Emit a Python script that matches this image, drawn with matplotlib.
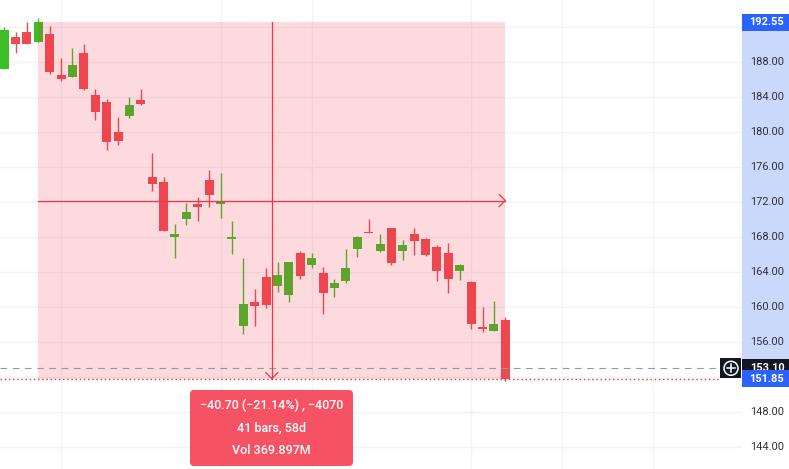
import matplotlib
matplotlib.use("Agg")
import matplotlib.pyplot as plt
from matplotlib.patches import Rectangle, FancyBboxPatch, Circle
from matplotlib.transforms import blended_transform_factory

plt.rcParams['font.family'] = ['Roboto', 'DejaVu Sans']

# ---- data (bar index relative to measurement start) ----
bar_idx = list(range(-3, 42))
opens = [187.27, 190.89, 191.46, 190.32, 191.23, 186.55, 186.35, 189.06, 184.26, 183.46,
         180.03, 181.90, 183.69, 174.89, 174.32, 168.07, 170.09, 171.81, 174.55, 171.81,
         167.81, 157.87, 160.61, 163.46, 162.43, 161.41, 166.20, 164.87, 163.92, 162.24,
         163.01, 166.70, 168.60, 166.47, 169.06, 166.43, 168.38, 167.81, 166.89, 166.20,
         164.15, 162.89, 157.75, 157.29, 158.55]
highs = [192.03, 191.46, 192.64, 193.06, 192.15, 188.49, 189.63, 190.09, 184.95, 183.81,
         181.75, 184.03, 184.95, 177.63, 174.89, 169.52, 171.92, 172.61, 175.69, 175.35,
         169.86, 165.63, 162.09, 164.49, 165.17, 165.17, 166.43, 166.20, 164.60, 163.23,
         166.66, 168.18, 170.09, 168.38, 169.06, 167.69, 169.06, 167.92, 167.12, 167.35,
         164.95, 163.00, 160.03, 160.72, 158.89]
lows = [187.27, 189.10, 190.09, 190.32, 186.70, 185.90, 186.35, 184.87, 181.44, 178.00,
        178.58, 181.67, 183.15, 173.33, 168.75, 165.67, 169.44, 169.90, 171.46, 170.21,
        166.09, 156.95, 157.87, 159.95, 161.78, 160.64, 163.27, 164.53, 159.27, 161.21,
        162.81, 165.78, 168.50, 166.35, 164.87, 165.40, 165.98, 165.86, 163.00, 161.64,
        163.12, 157.52, 157.18, 157.29, 151.58]
closes = [191.69, 190.09, 190.09, 192.55, 186.93, 186.13, 187.69, 184.98, 182.35, 178.93,
          179.04, 183.12, 183.27, 174.13, 168.75, 168.38, 170.89, 171.46, 172.83, 172.11,
          168.03, 160.38, 160.15, 160.26, 163.69, 165.17, 163.61, 165.63, 161.67, 162.78,
          164.49, 168.03, 168.50, 167.23, 165.10, 167.12, 167.58, 165.98, 164.15, 163.23,
          164.83, 158.09, 157.52, 158.09, 151.85]

price_ticks = [188, 184, 180, 176, 172, 168, 164, 160, 156, 148, 144]
grid_prices = [192, 188, 184, 180, 176, 172, 168, 164, 160, 156, 152, 148, 144]
time_grid_bars = [2, 16, 24, 38, 46, 54]

start_bar, end_bar = 0, 41
start_price, end_price = 192.55, 151.85
last_price = 153.10
info_lines = ["\u221240.70 (\u221221.14%) , \u22124070", "41 bars, 58d", "Vol 369.897M"]

# ---- colors ----
UP = '#3DBD26'
DOWN = '#EE4A52'
RED = '#F23645'
GRID = '#F0F3FA'
BLUE = '#2962FF'
BAND = '#C9D8FB'

W, H = 789, 469
fig = plt.figure(figsize=(W / 100, H / 100), dpi=100)
fig.patch.set_facecolor('white')

plot_w = 742
ax = fig.add_axes([0, 0, plot_w / W, 1])
xmin, xmax = -3.363, 61.78
ybot, ytop = 141.52, 195.12
ax.set_xlim(xmin, xmax)
ax.set_ylim(ybot, ytop)
ax.axis('off')
px_per_bar = plot_w / (xmax - xmin)
px_per_price = H / (ytop - ybot)

# grid
for p in grid_prices:
    ax.axhline(p, color=GRID, lw=1.0, zorder=0)
for b in time_grid_bars:
    ax.axvline(b, color=GRID, lw=1.0, zorder=0)

# candles
min_h = 1.0 / px_per_price
colors = [UP if c >= o else DOWN for o, c in zip(opens, closes)]
bottoms = [min(o, c) for o, c in zip(opens, closes)]
heights = [max(abs(c - o), min_h) for o, c in zip(opens, closes)]
ax.vlines(bar_idx, lows, highs, colors=colors, lw=1.0, zorder=2)
ax.bar(bar_idx, heights, bottom=bottoms, width=0.79, color=colors, linewidth=0, zorder=2)

# measurement rectangle
ax.add_patch(Rectangle((start_bar, end_price), end_bar - start_bar, start_price - end_price,
                       facecolor=RED, alpha=0.18, edgecolor='none', zorder=3))

# price lines
ax.axhline(last_price, xmin=0, xmax=720 / plot_w, color='#9598A1', lw=0.8,
           ls=(0, (6, 5)), zorder=4)
ax.axhline(end_price, xmin=0, xmax=720 / plot_w, color=RED, lw=1.0,
           ls=(0, (1.1, 1.9)), zorder=4)

# mid lines with arrows
mid_bar = (start_bar + end_bar) / 2
mid_price = (start_price + end_price) / 2
ax.plot([start_bar, end_bar], [mid_price, mid_price], color=RED, lw=0.9, zorder=5)
ax.plot([mid_bar, mid_bar], [start_price, end_price], color=RED, lw=0.9, zorder=5)
a = 6 / px_per_bar
b = 6 / px_per_price
ax.plot([end_bar - a, end_bar, end_bar - a], [mid_price + b, mid_price, mid_price - b],
        color=RED, lw=0.9, zorder=5)
ax.plot([mid_bar - a, mid_bar, mid_bar + a], [end_price + b, end_price, end_price + b],
        color=RED, lw=0.9, zorder=5)

# ---- overlay for price scale / labels ----
ov = fig.add_axes([0, 0, 1, 1], zorder=10)
ov.set_xlim(0, W)
ov.set_ylim(H, 0)
ov.axis('off')
ov.patch.set_alpha(0)
tr = blended_transform_factory(ov.transData, ax.transData)
pad = 8.6 / px_per_price

ov.add_patch(Rectangle((plot_w, end_price - pad), W - plot_w, start_price - end_price + 2 * pad,
                       transform=tr, facecolor=BAND, edgecolor='none', zorder=1))
for p in price_ticks:
    ov.text(767, p, f"{p:.2f}", transform=tr, ha='center', va='center',
            fontsize=7.9, color='#2f323b', zorder=2)

# last price label (black) and +
lab_h = 17 / px_per_price
ov.add_patch(Rectangle((plot_w, last_price - lab_h / 2), W - plot_w, lab_h, transform=tr,
                       facecolor='#131722', edgecolor='none', zorder=3))
ov.text(767, last_price, f"{last_price:.2f}", transform=tr, ha='center', va='center',
        fontsize=7.9, color='white', fontweight='bold', zorder=4)
ov.add_patch(Rectangle((720, last_price - 10 / px_per_price), 21.5, 20 / px_per_price,
                       transform=tr, facecolor='#131722', edgecolor='none', zorder=3))
ov.add_patch(Circle((731, 368.3), 7, facecolor='none', edgecolor='white', lw=1.1, zorder=4))
ov.plot([727, 735], [368.3, 368.3], color='white', lw=1.1, zorder=5)
ov.plot([731, 731], [364.3, 372.3], color='white', lw=1.1, zorder=5)

# measurement price labels (blue)
for p in (start_price, end_price):
    ov.add_patch(Rectangle((plot_w, p - lab_h / 2), W - plot_w, lab_h, transform=tr,
                           facecolor=BLUE, edgecolor='none', zorder=6))
    ov.text(767, p, f"{p:.2f}", transform=tr, ha='center', va='center',
            fontsize=7.9, color='white', fontweight='bold', zorder=7)

# info box
ov.add_patch(FancyBboxPatch((190, 390), 163, 76, boxstyle="round,pad=0,rounding_size=4",
                            facecolor='#F55364', edgecolor='none', zorder=6))
for y, s in zip([405.5, 427.5, 450], info_lines):
    ov.text(271.5, y, s, ha='center', va='center', fontsize=9, color='white',
            fontweight='medium', zorder=7)

fig.savefig('out.png', dpi=100, facecolor='white')
